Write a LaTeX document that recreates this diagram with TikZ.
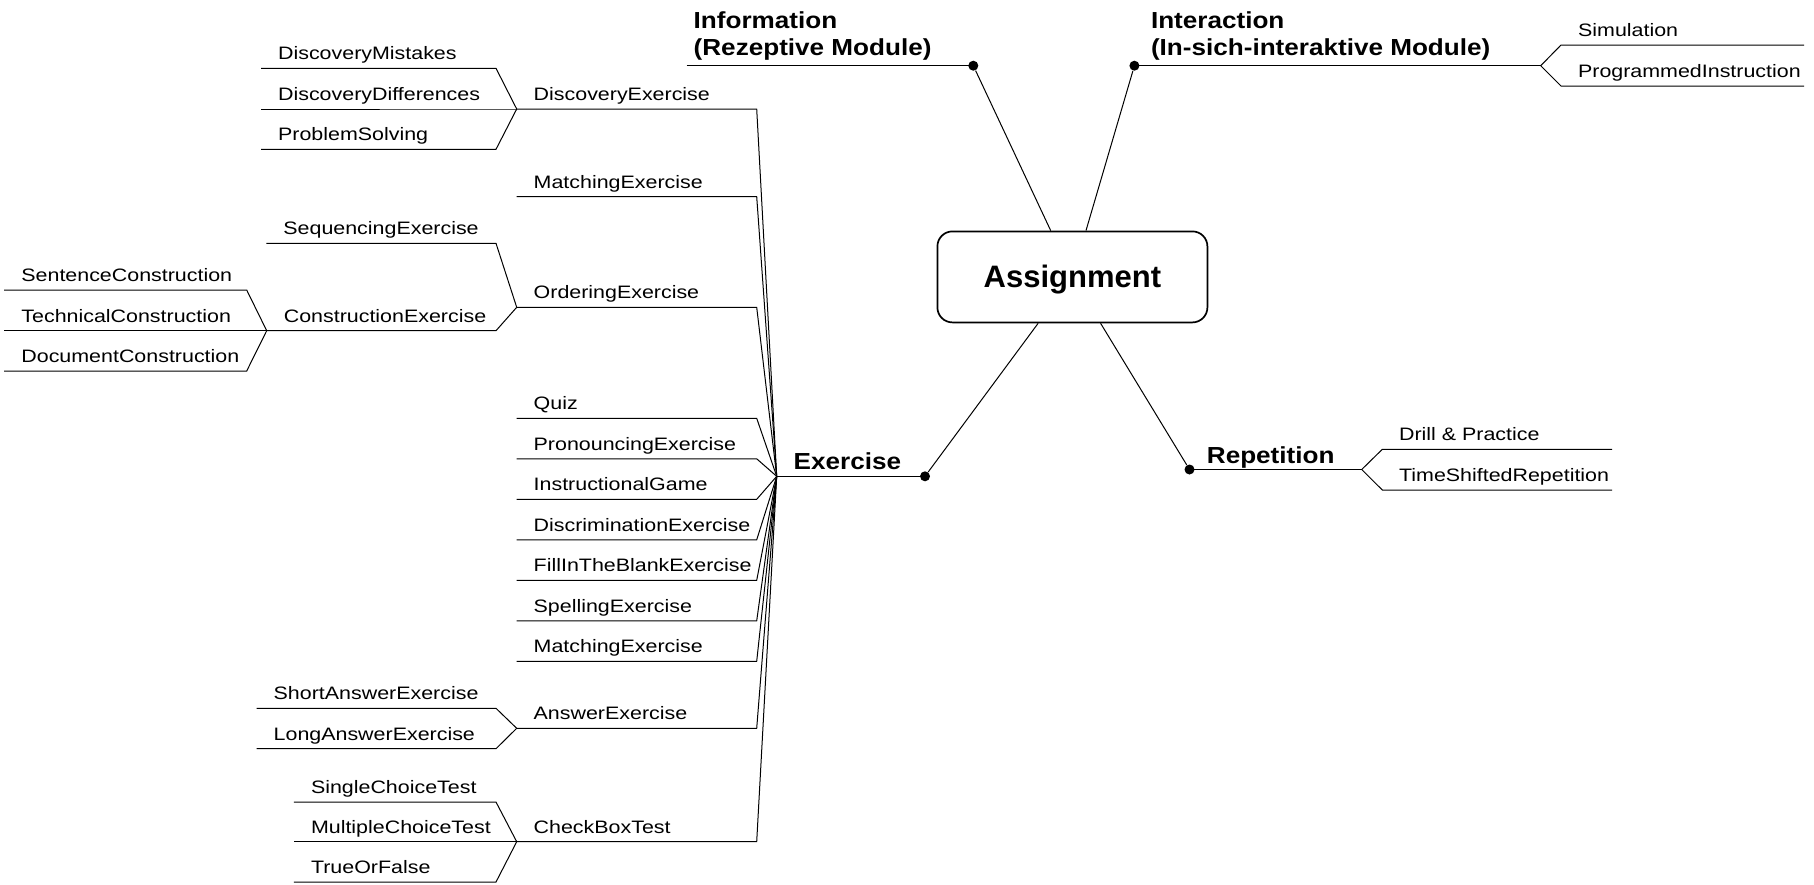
\documentclass[tikz,border=0pt]{standalone}
\usepackage{fontspec}
\setmainfont{Liberation Sans}
\newfontfamily\leaffont[FakeStretch=1.19]{Liberation Sans}
\newfontfamily\headfont[FakeStretch=1.125]{Liberation Sans}
\newfontfamily\rootfont{Liberation Sans}
\begin{document}
\begin{tikzpicture}[x=0.5pt,y=-0.5pt,
  wire/.style={line width=0.5pt, line join=miter},
  leaf/.style={font=\leaffont\fontsize{9}{10.8}\selectfont, anchor=base west, inner sep=0pt},
  head/.style={font=\headfont\bfseries\fontsize{11.6}{13.4}\selectfont, anchor=base west, inner sep=0pt, align=left},
  hub/.style={circle, fill=black, inner sep=0pt, minimum size=5pt},
  rootbox/.style={draw, line width=0.85pt, rounded corners=7.5pt, minimum width=135pt,
    minimum height=45.5pt, inner sep=0pt, font=\rootfont\bfseries\fontsize{15.5}{18}\selectfont,
    text height=11pt, text depth=0pt}]
\useasboundingbox (0,0) rectangle (1814,884);

% centre
\node[rootbox] (root) at (1072.4,276.9) {Assignment};

% main branches
\node[hub] (infoDot)  at (973.3,65.7) {};
\node[hub] (interDot) at (1134.4,65.7) {};
\node[hub] (exDot)    at (925,476.3) {};
\node[hub] (repDot)   at (1189.5,469.5) {};
\foreach \d in {infoDot,interDot,exDot,repDot}
  \draw[wire] (\d) -- (root);

% two-line headings are anchored at the baseline of their last line
\node[head] (info)  at (693.3,55.5)   {Information\\(Rezeptive Module)};
\node[head] (inter) at (1150.6,55.5)  {Interaction\\(In-sich-interaktive Module)};
\node[head] (ex)    at (793.3,469) {Exercise};
\node[head] (rep)   at (1206.5,463) {Repetition};

\coordinate (infoL) at (686.7,65.7);
\draw[wire] (infoL) -- (infoDot.center);

% Interaction sub-items
\coordinate (interTip) at (1540.7,65.7);
\draw[wire] (interDot.center) -- (interTip);
\foreach \n/\y/\t in {sim/45/Simulation, prog/86/ProgrammedInstruction}{
  \coordinate (\n-b) at (1561,\y);
  \coordinate (\n-r) at (1804,\y);
  \node[leaf] (\n) at (1577.7,\y-8.5) {\t};
  \draw[wire] (interTip) -- (\n-b) -- (\n-r);
}

% Repetition sub-items
\coordinate (repTip) at (1361.7,469.5);
\draw[wire] (repDot.center) -- (repTip);
\foreach \n/\y/\t in {drill/449.3/{Drill \& Practice}, tsr/490/TimeShiftedRepetition}{
  \coordinate (\n-b) at (1382.3,\y);
  \coordinate (\n-r) at (1612,\y);
  \node[leaf] (\n) at (1398.7,\y-8.5) {\t};
  \draw[wire] (repTip) -- (\n-b) -- (\n-r);
}

% Exercise fan
\coordinate (exFan) at (776.7,476.3);
\draw[wire] (exFan) -- (exDot.center);
\foreach \n/\y/\t in {dx/109/DiscoveryExercise, mx/196.7/MatchingExercise,
    ox/307.3/OrderingExercise, quiz/418.3/Quiz, px/458.8/PronouncingExercise,
    ig/499.3/InstructionalGame, disc/539.8/DiscriminationExercise,
    fib/580.3/FillInTheBlankExercise, spx/620.8/SpellingExercise,
    mxb/661.3/MatchingExercise, ax/728.3/AnswerExercise, cbt/841.7/CheckBoxTest}{
  \coordinate (\n-tip) at (516.7,\y);
  \coordinate (\n-end) at (756.7,\y);
  \node[leaf] (\n) at (533.3,\y-8.5) {\t};
  \draw[wire] (\n-tip) -- (\n-end) -- (exFan);
}

% second and third level items: parent/name/y/left end/text
\foreach \p/\n/\y/\lx/\t in {
    dx/dm/68.3/261/DiscoveryMistakes, dx/dd/109/261/DiscoveryDifferences,
    dx/ps/149.3/261/ProblemSolving,
    ox/sq/243.3/266.3/SequencingExercise, ox/cx/330.7/266.7/ConstructionExercise,
    ax/sa/708.3/256.6/ShortAnswerExercise, ax/la/748.7/256.6/LongAnswerExercise,
    cbt/sc/802/293.9/SingleChoiceTest, cbt/mc/841.7/293.9/MultipleChoiceTest,
    cbt/tf/882/293.9/TrueOrFalse}{
  \coordinate (\n-b) at (496,\y);
  \coordinate (\n-tip) at (\lx,\y);
  \node[leaf] (\n) at (\lx+16.7,\y-8.5) {\t};
  \draw[wire] (\p-tip) -- (\n-b) -- (\n-tip);
}
\foreach \n/\y/\t in {stc/290/SentenceConstruction, tc/330.7/TechnicalConstruction,
    dc/371/DocumentConstruction}{
  \coordinate (\n-b) at (246.7,\y);
  \coordinate (\n-l) at (4,\y);
  \node[leaf] (\n) at (21,\y-8.5) {\t};
  \draw[wire] (cx-tip) -- (\n-b) -- (\n-l);
}
\end{tikzpicture}
\end{document}
